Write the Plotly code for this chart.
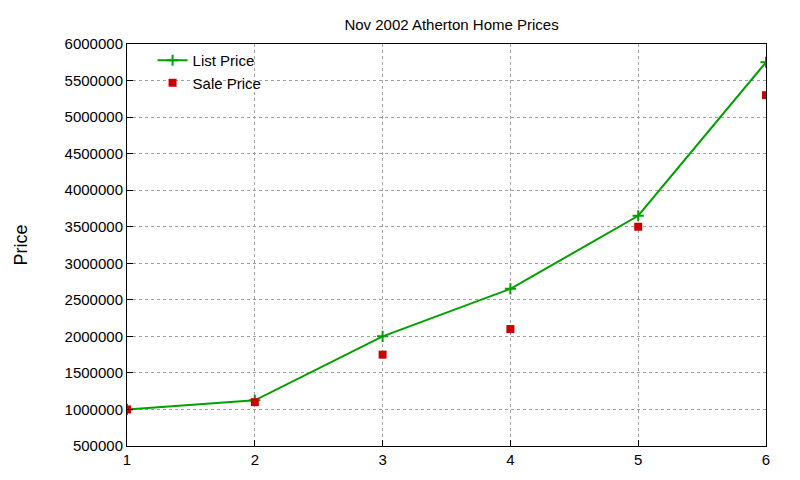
import plotly.graph_objs as go

houses = [1, 2, 3, 4, 5, 6]
list_price = [1000000, 1125000, 2000000, 2650000, 3650000, 5750000]
sale_price = [1000000, 1100000, 1750000, 2100000, 3500000, 5300000]
y_ticks = list(range(500000, 6000001, 500000))

fig = go.Figure()
fig.add_trace(go.Scatter(x=houses, y=list_price, name="List Price", mode="lines+markers",
                         line=dict(color="#00a000", width=2),
                         marker=dict(symbol="cross-thin", size=8, line=dict(color="#00a000", width=2))))
fig.add_trace(go.Scatter(x=houses, y=sale_price, name="Sale Price", mode="markers",
                         marker=dict(symbol="square", size=8, color="#cc0000")))

axis = dict(showline=True, linecolor="black", linewidth=1, mirror=True, ticks="inside",
            ticklen=6, tickcolor="black", showgrid=True, gridcolor="#a0a0a0",
            griddash="dot", gridwidth=1, zeroline=False)
fig.update_layout(
    width=792, height=472,
    paper_bgcolor="white", plot_bgcolor="white",
    font=dict(family="Liberation Sans, Arial", size=15, color="black"),
    title=dict(text="Nov 2002 Atherton Home Prices", x=0.56, xanchor="center", y=0.975,
               yanchor="top", font=dict(size=15)),
    margin=dict(l=110, r=34, t=36, b=32),
    showlegend=True,
    legend=dict(x=0.04, y=1.0, xanchor="left", yanchor="top", bgcolor="rgba(0,0,0,0)",
                tracegroupgap=0, font=dict(size=15)),
    xaxis=dict(axis, range=[1, 6], tickvals=houses, dtick=1),
    yaxis=dict(axis, range=[500000, 6000000], tickvals=y_ticks, tickformat="d",
               title=dict(text="Price", standoff=32)),
)
fig.write_html("out.html")
